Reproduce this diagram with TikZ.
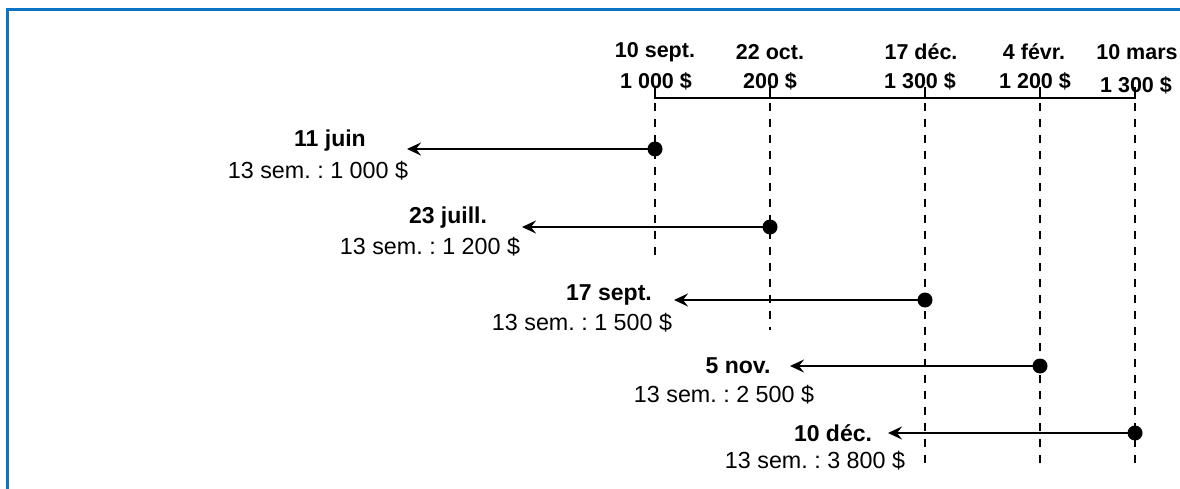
\documentclass[tikz,border=0pt]{standalone}
\usepackage{fontspec}
\setmainfont{Liberation Sans}
\frenchspacing
\usetikzlibrary{arrows.meta}
\definecolor{frameblue}{HTML}{0B72C4}
\begin{document}
\begin{tikzpicture}[x=1pt,y=-1pt,
  hdr/.style={font=\fontsize{21.5}{24}\selectfont\bfseries,inner sep=0pt,anchor=center},
  datelab/.style={font=\fontsize{23}{26}\selectfont\bfseries,inner sep=0pt,anchor=center},
  amtlab/.style={font=\fontsize{23.3}{26}\selectfont,inner sep=0pt,anchor=center},
  guide/.style={line width=2.4pt,dash pattern=on 8pt off 8pt},
  axis/.style={line width=2.4pt},
  flow/.style={line width=2.4pt,-{Stealth[length=14pt,width=13pt,inset=5pt]}},
  dotmark/.style={circle,fill=black,inner sep=0pt,minimum size=15pt}]
\useasboundingbox (0,0) rectangle (1180,489);
\fill[white] (0,0) rectangle (1180,489);
% frame
\draw[frameblue,line width=3pt] (7,489) -- (7,10) -- (1180,10);
% header texts
\node[hdr] (h1a) at (655,52) {10 sept.};
\node[hdr] (h1b) at (656,81) {1 000 \$};
\node[hdr] (h2a) at (770,52) {22 oct.};
\node[hdr] (h2b) at (770,81) {200 \$};
\node[hdr] (h3a) at (921,52) {17 déc.};
\node[hdr] (h3b) at (920,81) {1 300 \$};
\node[hdr] (h4a) at (1034,52) {4 févr.};
\node[hdr] (h4b) at (1035,81) {1 200 \$};
\node[hdr] (h5a) at (1137,52) {10 mars};
\node[hdr] (h5b) at (1136,85) {1 300 \$};
% axis coordinates
\coordinate (v1) at (655,98);
\coordinate (v2) at (770,98);
\coordinate (v3) at (925,98);
\coordinate (v4) at (1040,98);
\coordinate (v5) at (1135,98);
\coordinate (b1) at (655,260);
\coordinate (b2) at (770,330);
\coordinate (b3) at (925,469);
\coordinate (b4) at (1040,469);
\coordinate (b5) at (1135,469);
% bracket
\draw[axis] ([yshift=7pt]v1) -- (v1) -- (v5) -- ([yshift=7pt]v5);
\foreach \v in {v2,v3,v4} \draw[axis] (\v) -- ([yshift=7pt]\v);
% dashed guides
\foreach \i in {1,...,5} \draw[guide] ([yshift=11pt]v\i) -- (b\i);
% dots
\node[dotmark] (d1) at (655,149) {};
\node[dotmark] (d2) at (770,227) {};
\node[dotmark] (d3) at (925,300) {};
\node[dotmark] (d4) at (1040,366) {};
\node[dotmark] (d5) at (1135,433) {};
% tips
\coordinate (t1) at (407,149);
\coordinate (t2) at (522,227);
\coordinate (t3) at (674,300);
\coordinate (t4) at (790,366);
\coordinate (t5) at (888,433);
\foreach \i in {1,...,5} \draw[flow] (d\i.center) -- (t\i);
% labels
\node[datelab] (l1) at (330,141) {11 juin};
\node[amtlab] (a1) at (318,171) {13 sem. : 1 000 \$};
\node[datelab] (l2) at (448,218) {23 juill.};
\node[amtlab] (a2) at (430,247) {13 sem. : 1 200 \$};
\node[datelab] (l3) at (609,295) {17 sept.};
\node[amtlab] (a3) at (582,323) {13 sem. : 1 500 \$};
\node[datelab] (l4) at (738,366) {5 nov.};
\node[amtlab] (a4) at (724,395) {13 sem. : 2 500 \$};
\node[datelab] (l5) at (833,433) {10 déc.};
\node[amtlab] (a5) at (815,461) {13 sem. : 3 800 \$};
\end{tikzpicture}
\end{document}
